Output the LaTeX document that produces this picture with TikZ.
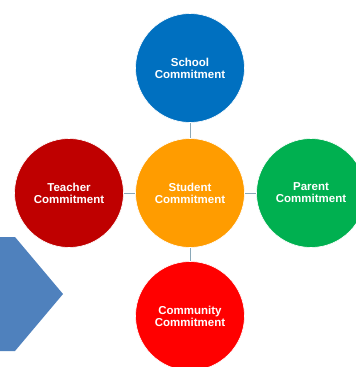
\documentclass[tikz,border=0pt]{standalone}
\usepackage{fontspec}
\setmainfont{Liberation Sans}
\begin{document}
\begin{tikzpicture}[x=1pt,y=-1pt,
  bub/.style={circle,minimum size=109pt,inner sep=0pt,draw=white,line width=0.6pt,
    text=white,font=\bfseries\fontsize{11.5}{12}\selectfont,align=center},
  link/.style={draw=linkc,line width=1pt}]
\definecolor{schoolc}{HTML}{0070C0}
\definecolor{studentc}{HTML}{FF9C00}
\definecolor{teacherc}{HTML}{BF0000}
\definecolor{parentc}{HTML}{00B050}
\definecolor{commc}{HTML}{FF0000}
\definecolor{arrowc}{HTML}{4F81BD}
\definecolor{linkc}{HTML}{8AA8B8}
\useasboundingbox (0,0) rectangle (356,367);
\clip (0,0) rectangle (356,367);
\fill[white] (0,0) rectangle (356,367);
\fill[arrowc] (-2,237) -- (15,237) -- (63,294) -- (15,351) -- (-2,351) -- cycle;
\node[bub,fill=schoolc] (school) at (190,68) {School\\Commitment};
\node[bub,fill=studentc] (student) at (190,193) {Student\\Commitment};
\node[bub,fill=teacherc] (teacher) at (69,193) {Teacher\\Commitment};
\node[bub,fill=parentc] (parent) at (311,193) {Parent\\Commitment};
\node[bub,fill=commc] (comm) at (190,316) {Community\\Commitment};
\draw[link] (school) -- (student);
\draw[link] (teacher) -- (student);
\draw[link] (student) -- (parent);
\draw[link] (student) -- (comm);
\end{tikzpicture}
\end{document}
